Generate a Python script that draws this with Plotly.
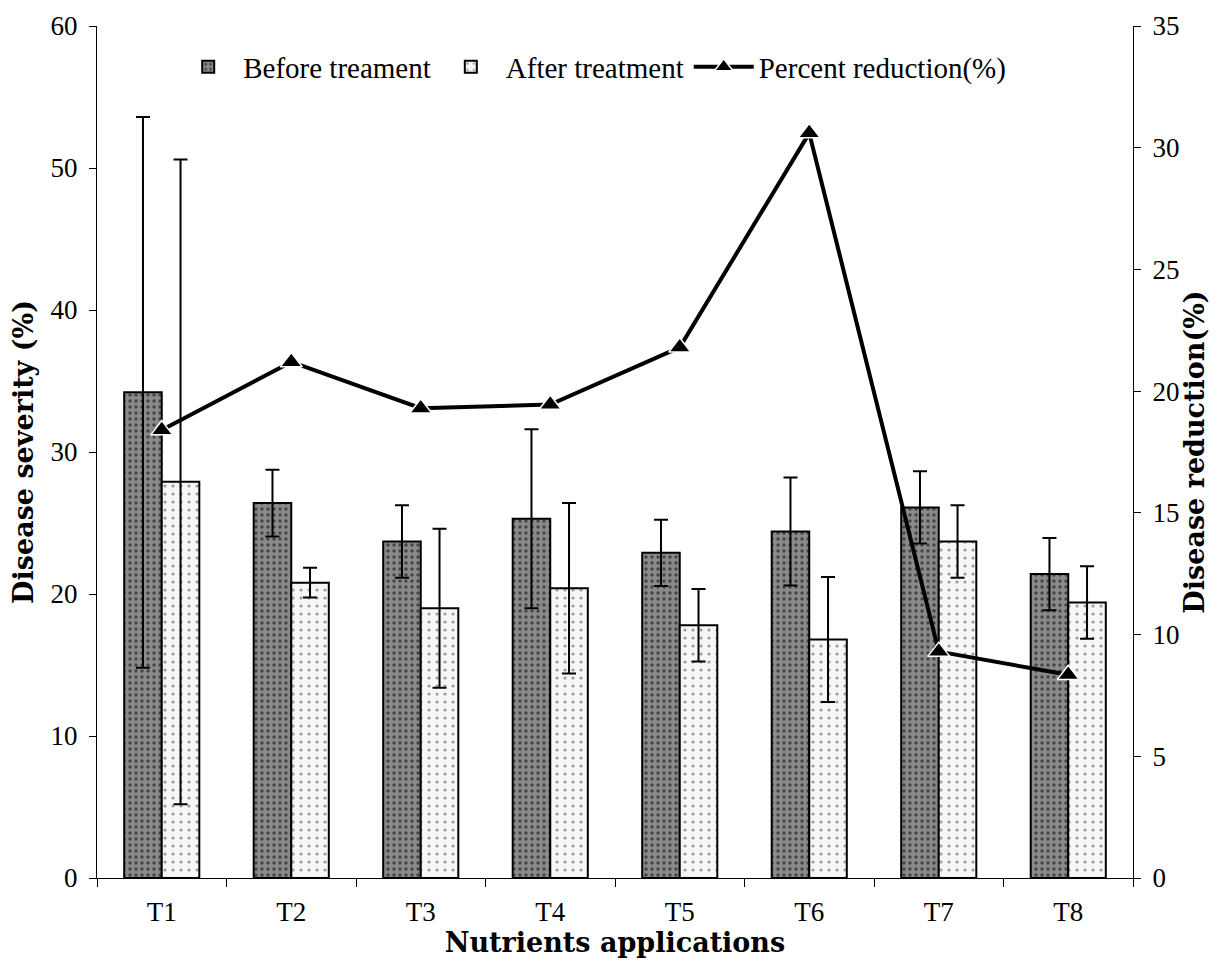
import plotly.graph_objects as go

categories = ["T1", "T2", "T3", "T4", "T5", "T6", "T7", "T8"]
before = [34.2, 26.4, 23.7, 25.3, 22.9, 24.4, 26.1, 21.4]
before_err = [19.4, 2.35, 2.55, 6.3, 2.33, 3.8, 2.55, 2.55]
after = [27.9, 20.8, 19.0, 20.4, 17.8, 16.8, 23.7, 19.4]
after_err = [22.7, 1.05, 5.6, 6.0, 2.55, 4.4, 2.55, 2.55]
reduction = [18.4, 21.2, 19.3, 19.45, 21.8, 30.6, 9.3, 8.35]

FONT = "Liberation Serif"
TFONT = "DejaVu Serif"

fig = go.Figure()
fig.add_trace(go.Bar(
    x=categories, y=before, name="Before treament",
    marker=dict(color="#8a8a8a", line=dict(color="black", width=2),
                pattern=dict(shape=".", bgcolor="#8a8a8a", fgcolor="black", size=6, solidity=0.25)),
    error_y=dict(type="data", array=before_err, color="black", thickness=2, width=7),
))
fig.add_trace(go.Bar(
    x=categories, y=after, name="After treatment",
    marker=dict(color="#f6f6f6", line=dict(color="black", width=2),
                pattern=dict(shape=".", bgcolor="#f6f6f6", fgcolor="#444", size=8, solidity=0.12)),
    error_y=dict(type="data", array=after_err, color="black", thickness=2, width=7),
))
fig.add_trace(go.Scatter(
    x=categories, y=reduction, name="Percent reduction(%)", yaxis="y2",
    mode="lines+markers",
    line=dict(color="black", width=4),
    marker=dict(symbol="triangle-up", size=19, color="black", line=dict(color="white", width=1.5)),
))

fig.update_layout(
    width=1217, height=961,
    margin=dict(l=89, r=92, t=18, b=91, autoexpand=False),
    plot_bgcolor="white", paper_bgcolor="white",
    font=dict(family=FONT, size=26, color="black"),
    barmode="group", bargap=0.42, bargroupgap=0,
    showlegend=True,
    legend=dict(orientation="h", x=0.478, y=0.952, xanchor="center", yanchor="middle",
                font=dict(family=FONT, size=29), bgcolor="rgba(0,0,0,0)",
                itemwidth=60, tracegroupgap=0, traceorder="normal"),
    xaxis=dict(type="category", tickson="boundaries", ticks="outside", ticklen=8, tickcolor="black",
               showline=True, linecolor="black", linewidth=1, showgrid=False, automargin=False,
               tickfont=dict(family=FONT, size=27), ticklabelstandoff=10,
               title=dict(text="<b>Nutrients applications</b>", font=dict(family=TFONT, size=27), standoff=0)),
    yaxis=dict(range=[0, 60], dtick=10, ticks="outside", ticklen=7, tickcolor="black",
               showline=True, linecolor="black", linewidth=1, showgrid=False, zeroline=False, automargin=False,
               tickfont=dict(family=FONT, size=27), ticklabelstandoff=6,
               title=dict(text="<b>Disease severity (%)</b>", font=dict(family=TFONT, size=27), standoff=10)),
    yaxis2=dict(range=[0, 35], dtick=5, overlaying="y", side="right", anchor="x",
                ticks="outside", ticklen=7, tickcolor="black", automargin=False,
                showline=True, linecolor="black", linewidth=1, showgrid=False, zeroline=False,
                tickfont=dict(family=FONT, size=27), ticklabelstandoff=6,
                title=dict(text="<b>Disease reduction(%)</b>", font=dict(family=TFONT, size=27), standoff=4)),
    yaxis3=dict(range=[0, 60], dtick=10, overlaying="y", side="left", anchor="x", automargin=False,
                ticks="inside", ticklen=8, tickcolor="black", showticklabels=False,
                showline=False, showgrid=False, zeroline=False),
    yaxis4=dict(range=[0, 35], dtick=5, overlaying="y", side="right", anchor="x", automargin=False,
                ticks="inside", ticklen=8, tickcolor="black", showticklabels=False,
                showline=False, showgrid=False, zeroline=False),
    xaxis2=dict(range=[-0.5, 7.5], overlaying="x", anchor="y", side="bottom", automargin=False,
                tickvals=[-0.5, 0.5, 1.5, 2.5, 3.5, 4.5, 5.5, 6.5, 7.5],
                ticks="inside", ticklen=7, tickcolor="black", showticklabels=False,
                showline=False, showgrid=False, zeroline=False),
)

fig.write_html("out.html")
